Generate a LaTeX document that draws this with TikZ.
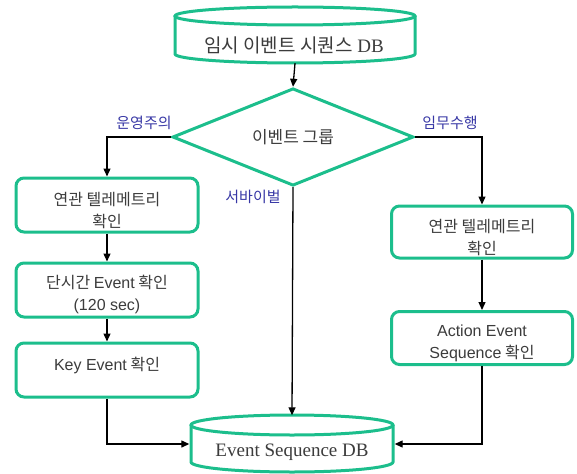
\documentclass[tikz,border=0pt]{standalone}
\usepackage{fontspec}
\setmainfont{Liberation Serif}
\newfontfamily\kr{Noto Sans CJK KR}
\newfontfamily\lat{Liberation Sans}
\usetikzlibrary{shapes.geometric,arrows.meta}
\definecolor{grn}{RGB}{28,190,140}
\definecolor{txt}{RGB}{60,60,60}
\definecolor{lbl}{RGB}{55,55,165}
\tikzset{
  shp/.style={draw=grn, line width=3pt},
  box/.style={shp, rounded corners=8pt, fill=white, inner sep=0pt},
  btxt/.style={text=txt, align=center, font=\kr\fontsize{16}{22}\selectfont, inner sep=0pt},
  conn/.style={line width=1.3pt, -{Triangle[length=8pt,width=7pt]}},
  lab/.style={text=lbl, font=\kr\fontsize{15}{17}\selectfont, inner sep=0pt},
  ghost/.style={inner sep=0pt, text=txt}
}
\begin{document}
\begin{tikzpicture}[x=1pt,y=-1pt]
\useasboundingbox (0,0) rectangle (577,473);
% top cylinder
\draw[shp, fill=white] (175,16) -- (175,54) arc[start angle=180,end angle=0,x radius=120,y radius=9] -- (415,16);
\draw[shp] (295,16) ellipse[x radius=120,y radius=9];
\node[ghost, minimum width=240pt, minimum height=56pt] (db1) at (295,35) {};
\node[ghost, font=\fontsize{19}{21}\selectfont] (db1t) at (294,45) {{\kr 임시 이벤트 시퀀스} DB};
% diamond
\node[shp, diamond, minimum width=241pt, minimum height=71pt, inner sep=0pt, text=txt,
  font=\kr\fontsize{17}{19}\selectfont] (dia) at (293,137) {이벤트 그룹};
% left boxes
\node[box, minimum width=182pt, minimum height=54pt] (L1) at (107,205) {};
\node[btxt] (L1t) at (107,211) {연관 텔레메트리\\확인};
\node[box, minimum width=182pt, minimum height=54pt] (L2) at (107,290) {};
\node[btxt] (L2t) at (107,294) {단시간 {\lat Event} 확인\\{\lat (120 sec)}};
\node[box, minimum width=182pt, minimum height=54pt] (L3) at (107,370) {};
\node[btxt] (L3t) at (107,365) {{\lat Key Event} 확인};
% right boxes
\node[box, minimum width=181pt, minimum height=52pt] (R1) at (482,232) {};
\node[btxt] (R1t) at (482,238) {연관 텔레메트리\\확인};
\node[box, minimum width=181pt, minimum height=53pt] (R2) at (482,338) {};
\node[btxt] (R2t) at (482,343) {{\lat Action Event}\\{\lat Sequence} 확인};
% bottom cylinder
\draw[shp, fill=white] (191,425) -- (191,462) arc[start angle=180,end angle=0,x radius=101,y radius=10] -- (393,425);
\draw[shp] (292,425) ellipse[x radius=101,y radius=10];
\node[ghost, minimum width=205pt, minimum height=57pt] (db2) at (292,444) {};
\node[ghost, font=\fontsize{19}{21}\selectfont] (db2t) at (292,452) {Event Sequence DB};
% labels
\node[lab] (la) at (144,123) {운영주의};
\node[lab] (lb) at (450,123) {임무수행};
\node[lab] (lc) at (253,197) {서바이벌};
% connectors
\draw[conn] (db1.south) -- (dia.north);
\draw[conn] (dia.west) -| (L1.north);
\draw[conn] (dia.east) -| (R1.north);
\draw[conn] (L1.south) -- (L2.north);
\draw[conn] (L2.south) -- (L3.north);
\draw[conn] (R1.south) -- (R2.north);
\draw[conn] (dia.south) -- (db2.north);
\draw[conn] (L3.south) |- (db2.west);
\draw[conn] (R2.south) |- (db2.east);
\end{tikzpicture}
\end{document}
